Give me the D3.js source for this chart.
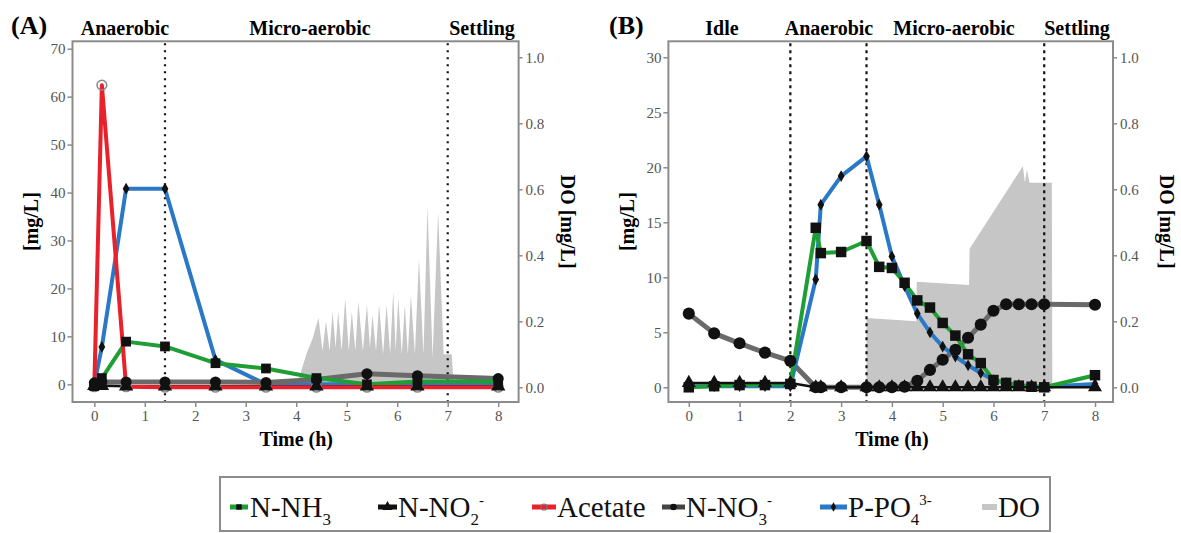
<!DOCTYPE html>
<html><head><meta charset="utf-8">
<script src="https://cdn.jsdelivr.net/npm/d3@7/dist/d3.min.js"></script>
<style>
body{margin:0;background:#fff}
svg{display:block}
text{font-family:"Liberation Serif","Times New Roman",serif}
</style>
</head><body>
<svg id="c" width="1181" height="533"></svg>
<script>
// ---------- Panel A data ----------
const timeA = [0, 0.15, 0.63, 1.4, 2.4, 3.4, 4.4, 5.4, 6.4, 8];
const nh3A  = [-0.4, 1.3, 8.9, 7.9, 4.4, 3.3, 1.3, 0.0, 0.6, 0.6];
const no2A  = [-0.3, -0.3, -0.4, -0.4, -0.4, -0.4, -0.4, -0.4, -0.4, -0.4];
const aceA  = [-0.5, 62.4, -0.5, -0.6, -0.6, -0.6, -0.6, -0.6, -0.6, -0.6];
const no3A  = [0.3, 0.5, 0.5, 0.5, 0.5, 0.4, 1.0, 2.2, 1.8, 1.2];
const po4A  = [0, 7.8, 40.8, 40.8, 5.1, 0, 0, 0, 0, 0];
const doTimeA = [4.00, 4.20, 4.33, 4.44, 4.52, 4.59, 4.66, 4.72, 4.78, 4.83, 4.90, 4.97, 5.04, 5.10, 5.17, 5.23, 5.32, 5.40, 5.46, 5.51, 5.58, 5.64, 5.72, 5.79, 5.86, 5.92, 5.97, 6.02, 6.09, 6.15, 6.21, 6.27, 6.35, 6.43, 6.52, 6.60, 6.70, 6.81, 6.92, 7.08, 7.12];
const doA     = [0.00, 0.10, 0.15, 0.21, 0.11, 0.20, 0.11, 0.23, 0.12, 0.23, 0.11, 0.27, 0.11, 0.23, 0.11, 0.26, 0.11, 0.25, 0.12, 0.22, 0.11, 0.25, 0.10, 0.25, 0.10, 0.29, 0.11, 0.27, 0.10, 0.25, 0.10, 0.28, 0.10, 0.39, 0.10, 0.55, 0.09, 0.53, 0.10, 0.10, 0.00];
const phasesA = ["Anaerobic", "Micro-aerobic", "Settling"];
const phaseBoundsA = [1.4, 7];

// ---------- Panel B data ----------
const timeB = [0, 0.5, 1, 1.5, 2, 2.5, 2.6, 3, 3.5, 3.75, 4, 4.25, 4.5, 4.75, 5, 5.25, 5.5, 5.75, 6, 6.25, 6.5, 6.75, 7, 8];
const nh3B  = [0, 0.1, 0.2, 0.2, 0.3, 14.5, 12.2, 12.3, 13.3, 10.95, 10.85, 9.5, 7.9, 7.25, 5.85, 4.7, 3.0, 2.2, 0.66, 0.4, 0.15, 0.05, 0, 1.1];
const no2B  = [0.4, 0.4, 0.4, 0.4, 0.4, 0, 0, 0, 0, 0, 0, 0, 0, 0, 0, 0, 0, 0, 0, 0, 0, 0, 0, 0];
const no3B  = [6.7, 4.9, 4.0, 3.15, 2.4, 0, 0, 0, 0, 0, 0, 0.05, 0.6, 1.58, 2.5, 3.4, 4.5, 5.7, 6.96, 7.55, 7.55, 7.55, 7.55, 7.5];
const po4B  = [0.1, 0.1, 0.1, 0.1, 0.1, 9.8, 16.6, 19.2, 21.0, 16.6, 11.9, 9.2, 6.7, 5.0, 3.7, 2.8, 2.0, 1.3, 0.66, 0.4, 0.2, 0.1, 0.05, 0.3];
const doTimeB = [3.5, 3.5, 4.48, 4.49, 5.52, 5.53, 6.58, 6.62, 6.66, 6.71, 6.76, 7.15, 7.16];
const doB     = [0, 0.21, 0.20, 0.32, 0.31, 0.42, 0.67, 0.62, 0.66, 0.62, 0.62, 0.62, 0];
const phasesB = ["Idle", "Anaerobic", "Micro-aerobic", "Settling"];
const phaseBoundsB = [2, 3.5, 7];

// ---------- axis ticks ----------
const xTicks = [0, 1, 2, 3, 4, 5, 6, 7, 8];
const yTicksA = [0, 10, 20, 30, 40, 50, 60, 70];
const yTicksB = [0, 5, 10, 15, 20, 25, 30];
const doTicks = [0, 0.2, 0.4, 0.6, 0.8, 1.0];

// ---------- legend ----------
const legendKeys = ["nh3", "no2", "ace", "no3", "po4", "do"];

const COL = {nh3:"#1e9e35", no2:"#111", ace:"#e8212b", no3:"#6a6a6a", po4:"#2a78c6", do:"#c6c6c6"};

const svg = d3.select("#c");

function panel(o) {
  const g = svg.append("g");
  const x = d3.scaleLinear().domain([0, 8]).range(o.xr);
  const yL = d3.scaleLinear().domain([0, o.ymax]).range(o.yLr);
  const yR = d3.scaleLinear().domain([0, 1]).range(o.yRr);
  const [bx0, bx1, by0, by1] = o.box;

  // DO area
  const doData = o.doT.map((t, i) => [t, o.doV[i]]);
  g.append("path")
    .attr("d", d3.area().x(d => x(d[0])).y0(yR(0)).y1(d => yR(d[1]))(doData))
    .attr("fill", COL.do);

  // phase dotted lines
  o.bounds.forEach(b => {
    g.append("line").attr("x1", x(b)).attr("x2", x(b)).attr("y1", by0 + 2).attr("y2", by1)
      .attr("stroke", "#111").attr("stroke-width", 2.2).attr("stroke-dasharray", o.dash);
  });

  const line = (ys) => d3.line().x((d, i) => x(o.t[i])).y(d => yL(d))(ys);
  const draw = (ys, c, w) => g.append("path").attr("d", line(ys)).attr("fill", "none")
      .attr("stroke", c).attr("stroke-width", w).attr("stroke-linejoin", "round");

  o.order.forEach(k => {
    const s = o.series[k];
    if (!s) return;
    if (k === "no3") draw(s, COL.no3, 5);
    else if (k === "no2") draw(s, "#111", 2.5);
    else draw(s, COL[k], 4);
  });

  // markers
  const sym = (type, size) => d3.symbol().type(type).size(size)();
  const mk = (ys, path, fill, stroke, sw) => {
    g.selectAll(null).data(ys).enter().append("path")
      .attr("d", path)
      .attr("transform", (d, i) => `translate(${x(o.t[i])},${yL(d)})`)
      .attr("fill", fill).attr("stroke", stroke || "none").attr("stroke-width", sw || 0);
  };
  if (o.series.ace) mk(o.series.ace, sym(d3.symbolCircle, 75), "none", "#8a8a8a", 1.5);
  if (o.series.no2) mk(o.series.no2, sym(d3.symbolTriangle, o.triSize), "#111");
  if (o.series.no3) mk(o.series.no3, sym(d3.symbolCircle, o.circSize), "#111");
  if (o.series.nh3) mk(o.series.nh3, sym(d3.symbolSquare, o.sqSize), "#111");
  if (o.series.po4) mk(o.series.po4, sym(d3.symbolDiamond, 40), "#111");

  // frame
  g.append("rect").attr("x", bx0).attr("y", by0).attr("width", bx1 - bx0).attr("height", by1 - by0)
    .attr("fill", "none").attr("stroke", "#8c8c8c").attr("stroke-width", 2);

  const styleAxis = (sel) => {
    sel.select(".domain").remove();
    sel.selectAll(".tick line").attr("stroke", "#8c8c8c").attr("stroke-width", 1.5);
    sel.selectAll(".tick text").attr("fill", "#555").attr("font-size", 15)
      .attr("font-family", "'Liberation Serif', serif");
  };
  g.append("g").attr("transform", `translate(0,${by1})`)
    .call(d3.axisBottom(x).tickValues(xTicks).tickSize(5).tickPadding(3).tickFormat(d3.format("d")))
    .call(styleAxis);
  g.append("g").attr("transform", `translate(${bx0},0)`)
    .call(d3.axisLeft(yL).tickValues(o.yTicks).tickSize(5).tickPadding(2).tickFormat(d3.format("d")))
    .call(styleAxis);
  g.append("g").attr("transform", `translate(${bx1},0)`)
    .call(d3.axisRight(yR).tickValues(doTicks).tickSize(4).tickPadding(3).tickFormat(d3.format(".1f")))
    .call(styleAxis);

  // titles
  const midY = (by0 + by1) / 2;
  g.append("text").attr("transform", `translate(${o.leftTitleX},${midY}) rotate(-90)`)
    .attr("text-anchor", "middle").attr("font-weight", "bold").attr("font-size", 20).text("[mg/L]");
  g.append("text").attr("transform", `translate(${o.rightTitleX},${midY}) rotate(90)`)
    .attr("text-anchor", "middle").attr("font-weight", "bold").attr("font-size", 20).text("DO [mg/L]");
  g.append("text").attr("x", (x(0) + x(8)) / 2).attr("y", 446)
    .attr("text-anchor", "middle").attr("font-weight", "bold").attr("font-size", 20).text("Time (h)");
  g.append("text").attr("x", o.tagX).attr("y", 34).attr("font-weight", "bold").attr("font-size", 26).text(o.tag);
  o.phases.forEach((p, i) => {
    g.append("text").attr("x", o.phaseX[i]).attr("y", 35).attr("text-anchor", "middle")
      .attr("font-weight", "bold").attr("font-size", 20).text(p);
  });
}

panel({
  tag: "(A)", tagX: 11,
  xr: [94.3, 498.2], yLr: [384.3, 48.7], yRr: [387.3, 57.3], ymax: 70,
  box: [72.5, 518.6, 41.3, 402],
  t: timeA,
  series: {nh3: nh3A, no2: no2A, ace: aceA, no3: no3A, po4: po4A},
  order: ["po4", "no3", "nh3", "no2", "ace"],
  triSize: 90, circSize: 95, sqSize: 95,
  doT: doTimeA, doV: doA,
  bounds: phaseBoundsA, dash: "2,5",
  yTicks: yTicksA,
  phases: phasesA, phaseX: [125, 310, 482],
  leftTitleX: 38, rightTitleX: 561
});

panel({
  tag: "(B)", tagX: 609,
  xr: [688.8, 1095], yLr: [387.3, 57.3], yRr: [387.3, 57.3], ymax: 30,
  box: [668.4, 1113, 41.3, 402],
  t: timeB,
  series: {nh3: nh3B, no2: no2B, no3: no3B, po4: po4B},
  order: ["no3", "po4", "nh3", "no2"],
  triSize: 85, circSize: 115, sqSize: 110,
  doT: doTimeB, doV: doB,
  bounds: phaseBoundsB, dash: "3,4",
  yTicks: yTicksB,
  phases: phasesB, phaseX: [722, 829, 954, 1077],
  leftTitleX: 634, rightTitleX: 1160
});

// ---------- legend ----------
const lg = svg.append("g");
lg.append("rect").attr("x", 220).attr("y", 477).attr("width", 830).attr("height", 54)
  .attr("fill", "none").attr("stroke", "#8c8c8c").attr("stroke-width", 2);
const LY = 507, TY = 517;
const legendLayout = {
  nh3: {x0: 230, x1: 248, tx: 250},
  no2: {x0: 378, x1: 397, tx: 398},
  ace: {x0: 532, x1: 556, tx: 557},
  no3: {x0: 662, x1: 685, tx: 686},
  po4: {x0: 820, x1: 847, tx: 848},
  do:  {x0: 982, x1: 997, tx: 998}
};
const legendText = {
  nh3: [["N-NH", 0], ["3", 1]],
  no2: [["N-NO", 0], ["2", 1], ["-", 2]],
  ace: [["Acetate", 0]],
  no3: [["N-NO", 0], ["3", 1], ["-", 2]],
  po4: [["P-PO", 0], ["4", 1], ["3-", 2]],
  do:  [["DO", 0]]
};
legendKeys.forEach(k => {
  const L = legendLayout[k];
  const c = k === "no3" ? "#444" : (k === "no2" ? "#111" : COL[k]);
  lg.append("line").attr("x1", L.x0).attr("x2", L.x1).attr("y1", LY).attr("y2", LY)
    .attr("stroke", c).attr("stroke-width", k === "do" ? 6 : 5);
  const cx = (L.x0 + L.x1) / 2;
  let sym = null;
  if (k === "nh3") sym = [d3.symbolSquare, 30, "#111"];
  if (k === "no2") sym = [d3.symbolTriangle, 45, "#111"];
  if (k === "no3") sym = [d3.symbolCircle, 35, "#111"];
  if (k === "po4") sym = [d3.symbolDiamond, 25, "#111"];
  if (sym) lg.append("path").attr("d", d3.symbol().type(sym[0]).size(sym[1])())
    .attr("transform", `translate(${cx},${LY})`).attr("fill", sym[2]);
  if (k === "ace") lg.append("circle").attr("cx", cx).attr("cy", LY).attr("r", 3)
    .attr("fill", "none").attr("stroke", "#777").attr("stroke-width", 1.2);
  const t = lg.append("text").attr("x", L.tx).attr("y", TY).attr("font-size", 29).attr("fill", "#111");
  legendText[k].forEach(([s, lvl]) => {
    const sp = t.append("tspan").text(s);
    if (lvl === 1) sp.attr("font-size", 17).attr("dy", 8);
    else if (lvl === 2) sp.attr("font-size", 15).attr("dy", -20);
  });
});
</script>
</body></html>
